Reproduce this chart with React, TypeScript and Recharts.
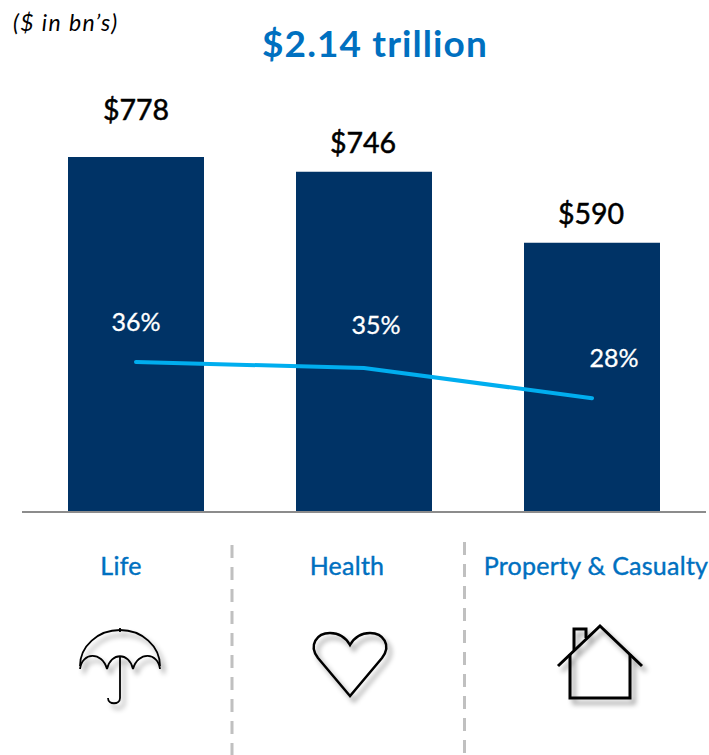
import { Bar, ComposedChart, LabelList, Line, XAxis, YAxis } from "recharts";

const categories = ["Life", "Health", "Property & Casualty"];
const premiums = [778, 746, 590];
const shares = [36.8, 35.3, 27.9];
const premiumLabels = ["$778", "$746", "$590"];
const shareLabels = ["36%", "35%", "28%"];

const data = categories.map((name, i) => ({
  name,
  premium: premiums[i],
  share: shares[i],
}));

const BLUE = "#0070c0";
const FONT = "Lato, 'Open Sans', sans-serif";

// hand-placed offsets, the source slide did not line things up
const premiumLabelDx = [0, -1, -1];
const premiumLabelDy = [-48, -30, -30];
const shareLabelDx = [0, 12, 22];
const shareLabelDy = [-41, -44, -41];
const tickDx = [-15, -17, 4];
const iconDx = [-16, -14, 8];
const separators = [
  { x: 232, y1: 545 },
  { x: 464.5, y1: 542 },
];

function PremiumLabel({ x, y, width, index }: any) {
  return (
    <text
      x={x + width / 2 + premiumLabelDx[index]}
      y={y + premiumLabelDy[index]}
      textAnchor="middle"
      dominantBaseline="central"
      fontFamily={FONT}
      fontSize={28.5}
      stroke="#000"
      strokeWidth={0.5}
      fill="#000"
    >
      {premiumLabels[index]}
    </text>
  );
}

function ShareLabel({ x, y, index }: any) {
  return (
    <text
      x={x + shareLabelDx[index]}
      y={y + shareLabelDy[index]}
      textAnchor="middle"
      dominantBaseline="central"
      fontFamily={FONT}
      fontSize={25}
      stroke="#fff"
      strokeWidth={0.3}
      fill="#fff"
    >
      {shareLabels[index]}
    </text>
  );
}

function Umbrella() {
  return (
    <g fill="none" stroke="#000" strokeWidth={1.8} filter="url(#iconShadow)">
      <path d="M-40 -1 A40 36 0 0 1 40 -1" />
      <path d="M0 -35 V-39" />
      <path d="M-40 2 C-38 -15 -18 -16 -13 2 C-9 -15 9 -15 13 2 C18 -16 38 -15 40 2" />
      <path d="M0 -10 V31 C0 38 -12 38 -12 31" />
    </g>
  );
}

function Heart() {
  return (
    <g fill="none" stroke="#000" strokeWidth={2.5} filter="url(#iconShadow)">
      <path d="M0 31 L-32 -7 C-42 -20 -33 -32 -20 -32 C-10 -32 -4 -27 0 -20 C4 -27 10 -32 20 -32 C33 -32 42 -20 32 -7 Z" />
    </g>
  );
}

function House() {
  return (
    <g fill="none" stroke="#000" strokeWidth={3} filter="url(#iconShadow)">
      <path d="M-42 4 L0 -36 L42 4" />
      <path d="M-30 -8 V36 H30 V-8" />
      <path d="M-26 -12 V-33 H-14 V-24" />
    </g>
  );
}

const icons = [
  { Icon: Umbrella, y: 667 },
  { Icon: Heart, y: 665 },
  { Icon: House, y: 662 },
];

function CategoryTick({ x, payload, index }: any) {
  const { Icon, y } = icons[index];
  return (
    <g>
      <text
        x={x + tickDx[index]}
        y={565}
        textAnchor="middle"
        dominantBaseline="central"
        fontFamily={FONT}
        fontSize={25}
        letterSpacing={0.25}
        stroke={BLUE}
        strokeWidth={0.4}
        fill={BLUE}
      >
        {payload.value}
      </text>
      <g transform={`translate(${x + iconDx[index]} ${y})`}>
        <Icon />
      </g>
    </g>
  );
}

export default function App() {
  return (
    <div style={{ position: "absolute", left: 0, top: 0, width: 709, height: 755 }}>
      <ComposedChart
        width={709}
        height={755}
        data={data}
        margin={{ top: 147, right: 3, bottom: 0, left: 22 }}
      >
        <defs>
          <filter id="iconShadow" x="-30%" y="-30%" width="170%" height="170%">
            <feDropShadow dx={4} dy={5} stdDeviation={2.5} floodColor="#000" floodOpacity={0.4} />
          </filter>
        </defs>
        <XAxis
          dataKey="name"
          height={243}
          interval={0}
          axisLine={{ stroke: "#8c8c8c", strokeWidth: 2 }}
          tickLine={false}
          tick={<CategoryTick />}
        />
        <YAxis yAxisId="premium" hide domain={[0, 800]} />
        <YAxis yAxisId="share" hide domain={[0, 89.5]} orientation="right" />
        <Bar yAxisId="premium" dataKey="premium" barSize={136} fill="#003366" isAnimationActive={false}>
          <LabelList content={<PremiumLabel />} />
        </Bar>
        <Line
          yAxisId="share"
          dataKey="share"
          stroke="#00aeef"
          strokeWidth={4}
          strokeLinecap="round"
          dot={false}
          activeDot={false}
          isAnimationActive={false}
        >
          <LabelList content={<ShareLabel />} />
        </Line>
        <text
          x={13}
          y={22}
          dominantBaseline="central"
          fontFamily={FONT}
          fontSize={23}
          fontStyle="italic"
          letterSpacing={1.4}
          fill="#000"
        >
          ($ in bn’s)
        </text>
        <text
          x={375}
          y={42}
          textAnchor="middle"
          dominantBaseline="central"
          fontFamily={FONT}
          fontSize={37}
          fontWeight={700}
          letterSpacing={1.1}
          fill={BLUE}
        >
          $2.14 trillion
        </text>
        {separators.map((s) => (
          <line
            key={s.x}
            x1={s.x}
            x2={s.x}
            y1={s.y1}
            y2={755}
            stroke="#c0c0c0"
            strokeWidth={3}
            strokeDasharray="13 9"
          />
        ))}
      </ComposedChart>
    </div>
  );
}
